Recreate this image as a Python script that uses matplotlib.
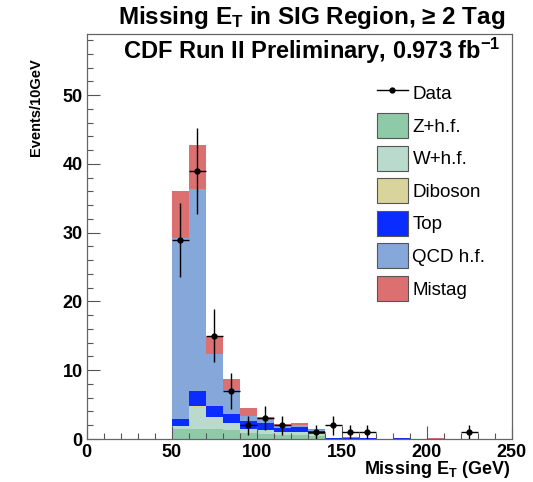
import numpy as np
import matplotlib
matplotlib.use("Agg")
import matplotlib.pyplot as plt
from matplotlib.patches import Patch
from matplotlib.lines import Line2D

# lower edges of the 10 GeV missing-ET bins
bin_low = [50, 60, 70, 80, 90, 100, 110, 120, 130, 140,
           150, 160, 170, 180, 190, 200, 210, 220]
bin_width = 10

data_counts = [29, 39, 15, 7, 2, 3, 2, 0, 1, 2, 1, 1, 0, 0, 0, 0, 0, 1]

z_hf = [1.4, 1.4, 1.4, 1.3, 0.9, 0.8, 0.6, 0.65, 0.45, 0.02,
        0, 0, 0, 0, 0, 0, 0, 0]
w_hf = [0.5, 3.3, 1.75, 0.9, 0.5, 0.45, 0.35, 0.4, 0.25, 0.02,
        0, 0, 0, 0, 0, 0, 0, 0]
diboson = [0.05, 0.15, 0.1, 0.08, 0.05, 0.03, 0.03, 0.03, 0.02, 0,
           0, 0, 0, 0, 0, 0, 0, 0]
top = [0.95, 2.15, 1.6, 1.3, 1.2, 1.1, 0.6, 0.6, 0.5, 0.12,
       0.1, 0.08, 0, 0.1, 0, 0, 0, 0]
qcd_hf = [26.4, 29.3, 7.45, 3.5, 0.7, 0.4, 0.3, 0.3, 0.1, 0,
          0, 0, 0, 0, 0, 0, 0, 0]
mistag = [6.7, 6.5, 2.6, 1.6, 1.2, 0.4, 0.25, 0.4, 0.2, 0,
          0.12, 0.05, 0, 0, 0, 0.1, 0, 0]

components = [
    ("Z+h.f.", z_hf, "#8fcaa8"),
    ("W+h.f.", w_hf, "#b9dacd"),
    ("Diboson", diboson, "#d9d49b"),
    ("Top", top, "#0a2cff"),
    ("QCD h.f.", qcd_hf, "#86a7d9"),
    ("Mistag", mistag, "#dc6f6f"),
]

plt.rcParams['font.family'] = ['Liberation Sans', 'DejaVu Sans']
plt.rcParams['mathtext.fontset'] = 'custom'
plt.rcParams['mathtext.rm'] = 'Liberation Sans:bold'
plt.rcParams['mathtext.it'] = 'Liberation Sans:bold'
plt.rcParams['mathtext.bf'] = 'Liberation Sans:bold'

fig = plt.figure(figsize=(5.33, 4.82), dpi=100)
ax = fig.add_axes([0.1627, 0.0892, 0.7974, 0.8403])

x = np.array(bin_low, dtype=float)
bottom = np.zeros(len(bin_low))
handles = [Line2D([0], [0], color='black', lw=1.0, marker='o', markersize=3.5)]
for name, vals, col in components:
    vals = np.array(vals)
    ax.bar(x, vals, width=bin_width, bottom=bottom, align='edge',
           color=col, linewidth=0)
    bottom += vals
    handles.append(Patch(facecolor=col, edgecolor='#555555', linewidth=0.8))

# data points with poisson errors, empty bins not drawn
counts = np.array(data_counts, dtype=float)
has = counts > 0
ax.errorbar(x[has] + bin_width / 2, counts[has], yerr=np.sqrt(counts[has]),
            xerr=bin_width / 2, fmt='o', color='black', markersize=3.5,
            elinewidth=1.0, capsize=0, zorder=5)

ax.set_xlim(0, 250)
ax.set_ylim(0, 58.9)
ax.set_xticks([0, 50, 100, 150, 200, 250])
ax.set_xticks(np.arange(0, 251, 10), minor=True)
ax.set_yticks([0, 10, 20, 30, 40, 50])
ax.set_yticks(np.arange(0, 59, 2), minor=True)
ax.tick_params(which='both', direction='in', colors='#555555',
               labelcolor='black', labelsize=13)
ax.tick_params(which='major', length=9.5, width=0.8)
ax.tick_params(which='minor', length=4.3, width=0.8)
ax.tick_params(axis='x', pad=3.5)
ax.tick_params(axis='y', pad=3)
for tl in ax.get_xticklabels() + ax.get_yticklabels():
    tl.set_fontweight('bold')
for sp in ax.spines.values():
    sp.set_color('#666666')
    sp.set_linewidth(0.9)

ax.set_xlabel(r"Missing E$_\mathrm{T}$ (GeV)", fontsize=13, fontweight='bold',
              ha='right', x=0.996, labelpad=-1)
ax.set_ylabel("Events/10GeV", fontsize=10.5, fontweight='bold',
              ha='right', y=0.94, labelpad=14)

fig.text(0.585, 0.963, "Missing E$_\\mathrm{T}$ in SIG Region, \u2265 2 Tag",
         ha='center', va='center', fontsize=17.5, fontweight='bold')
fig.text(0.585, 0.895, "CDF Run II Preliminary, 0.973 fb$^{-1}$",
         ha='center', va='center', fontsize=17, fontweight='bold')

labels = ["Data"] + [c[0] for c in components]
leg = ax.legend(handles, labels, loc='upper left',
                bbox_to_anchor=(0.683, 0.885), frameon=False, fontsize=13.5,
                handlelength=1.64, handleheight=1.68, labelspacing=0.4,
                handletextpad=0.25, borderaxespad=0, borderpad=0)

fig.savefig("out.png", dpi=100)
